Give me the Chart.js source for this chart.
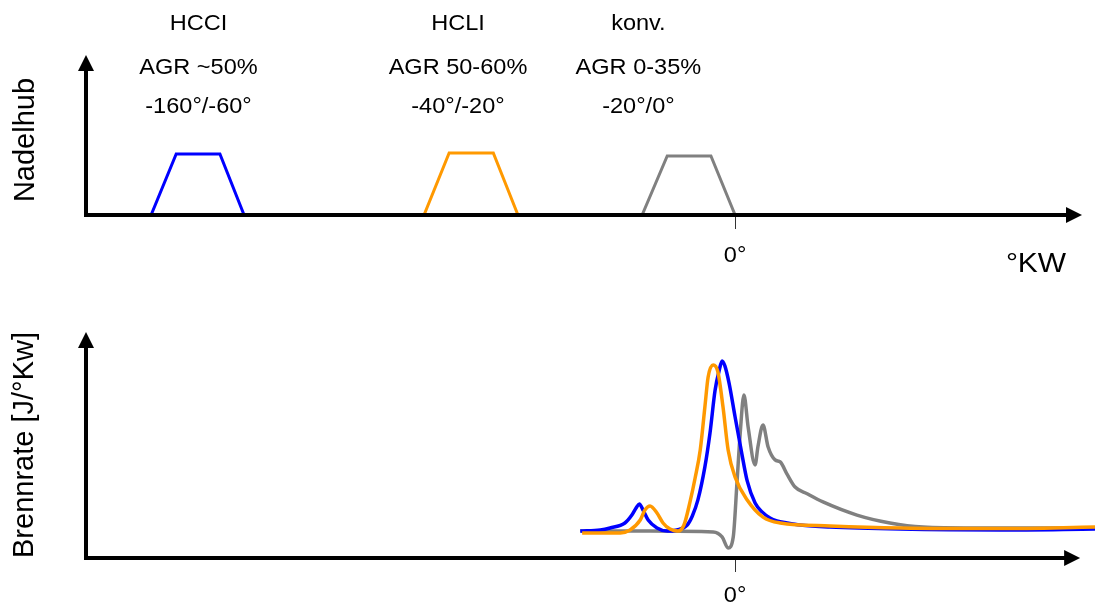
<!DOCTYPE html>
<html><head><meta charset="utf-8">
<script src="https://cdn.jsdelivr.net/npm/chart.js@4/dist/chart.umd.min.js"></script>
<style>
body{margin:0;background:#fff;width:1095px;height:604px;overflow:hidden;position:relative}
canvas{position:absolute;left:0}
</style></head><body>
<canvas id="c1" width="1095" height="290" style="top:0"></canvas>
<canvas id="c2" width="1095" height="314" style="top:290px"></canvas>
<script>
// ---- x axis (°KW, schematic), shared by both panels ----
const xMin = -139.6, xMax = 77.4, xArrowTop = 74.6, xArrowBottom = 74.2;

// ---- top panel: Nadelhub (needle lift) ----
const hubBlueX = [-125.6, -120.2, -110.8, -105.6];
const hubBlueY = [0, 3.81, 3.81, 0];
const hubOrangeX = [-66.9, -61.5, -52.0, -46.7];
const hubOrangeY = [0, 3.88, 3.88, 0];
const hubGrayX = [-20.0, -14.6, -5.2, 0];
const hubGrayY = [0, 3.69, 3.69, 0];

const modeNames = ['HCCI', 'HCLI', 'konv.'];
const modeAGR = ['AGR ~50%', 'AGR 50-60%', 'AGR 0-35%'];
const modeTiming = ['-160°/-60°', '-40°/-20°', '-20°/0°'];
const modeLabelX = [-115.4, -59.6, -20.8];

// ---- bottom panel: Brennrate (heat release rate) ----
const rateBlueX = [-33.3,-29.0,-26.9,-23.7,-22.2,-21.3,-20.6,-19.8,-18.7,-16.8,-14.6,-12.5,-10.3,-9.2,-8.0,-6.5,-5.4,-4.3,-3.4,-2.8,-2.2,-1.3,0,1.3,2.6,4.3,5.8,7.5,9.0,11.2,14.0,20.4,35.5,57.0,77.4];
const rateBlueY = [11.9,12.4,13.3,15.5,19.0,22.1,23.9,21.2,16.8,13.3,11.9,12.4,14.6,18.6,25.7,40.3,55.3,74.3,83.2,87.2,85.0,77.4,62.4,47.8,34.1,24.3,20.4,17.7,16.4,15.5,14.6,13.7,12.8,12.4,12.8];
const rateOrangeX = [-32.9,-24.7,-22.6,-20.4,-19.4,-18.3,-16.8,-15.5,-14.0,-12.3,-11.0,-9.7,-8.6,-7.5,-6.5,-5.8,-4.7,-3.7,-2.6,-1.5,0,2.6,6.0,9.7,20.4,35.5,57.0,77.4];
const rateOrangeY = [11.1,11.1,12.4,16.8,21.2,23.0,19.9,15.5,12.8,11.9,14.6,24.8,35.4,47.8,66.8,80.1,85.4,82.3,66.8,47.8,35.8,25.7,18.1,15.5,14.2,13.3,13.0,13.7];
const rateGrayX = [-33.3,-18.3,-4.7,-2.8,-1.5,-0.4,0.4,1.1,1.9,2.8,4.3,4.9,6.0,7.1,8.6,9.7,11.2,12.9,15.5,18.9,26.2,33.3,40.4,51.2,77.4];
const rateGrayY = [11.9,11.9,11.5,9.3,4.4,9.3,33.2,55.3,72.1,58.0,41.2,49.1,58.8,49.1,43.4,42.5,37.0,31.4,28.4,24.8,19.0,15.5,13.7,13.3,13.3];

const zeroLabel = '0°';
const xTitle = '°KW';
const yTitleTop = 'Nadelhub';
const yTitleBottom = 'Brennrate [J/°Kw]';

const BLUE = '#0000ff', ORANGE = '#ff9900', GRAY = '#808080';
const FONT = '"Liberation Sans", Arial, sans-serif';

function pts(xs, ys) { return xs.map((x, i) => ({x: x, y: ys[i]})); }

function text(ctx, s, x, y, size, rotate) {
  ctx.save();
  ctx.translate(x, y);
  if (rotate) ctx.rotate(-Math.PI / 2); else ctx.scale(1.07, 1);
  ctx.font = size + 'px ' + FONT;
  ctx.fillStyle = '#000';
  ctx.textAlign = 'center';
  ctx.textBaseline = 'alphabetic';
  ctx.fillText(s, 0, 0);
  ctx.restore();
}

function axes(chart, arrowValue) {
  const ctx = chart.ctx, a = chart.chartArea, xs = chart.scales.x;
  const left = a.left, bottom = a.bottom, top = a.top;
  const tip = xs.getPixelForValue(arrowValue);
  const L = 15, W = 8;
  ctx.save();
  ctx.strokeStyle = '#000';
  ctx.fillStyle = '#000';
  ctx.lineWidth = 4;
  ctx.lineJoin = 'miter';
  ctx.beginPath();
  ctx.moveTo(left, top + L);
  ctx.lineTo(left, bottom);
  ctx.lineTo(tip - L, bottom);
  ctx.stroke();
  ctx.beginPath();
  ctx.moveTo(tip, bottom);
  ctx.lineTo(tip - L - 1, bottom - W);
  ctx.lineTo(tip - L - 1, bottom + W);
  ctx.closePath();
  ctx.fill();
  ctx.beginPath();
  ctx.moveTo(left, top);
  ctx.lineTo(left - W, top + L + 1);
  ctx.lineTo(left + W, top + L + 1);
  ctx.closePath();
  ctx.fill();
  // tick at 0°
  const z = Math.round(xs.getPixelForValue(0)) + 0.5;
  ctx.strokeStyle = '#333';
  ctx.lineWidth = 1;
  ctx.beginPath();
  ctx.moveTo(z, bottom + 2);
  ctx.lineTo(z, bottom + 14);
  ctx.stroke();
  ctx.restore();
}

const baseOpts = (ymax, pad) => ({
  responsive: false, animation: false, devicePixelRatio: 1,
  layout: {padding: pad},
  plugins: {legend: {display: false}, tooltip: {enabled: false}},
  elements: {point: {radius: 0}},
  scales: {
    x: {type: 'linear', min: xMin, max: xMax, display: false},
    y: {type: 'linear', min: 0, max: ymax, display: false}
  }
});

new Chart(document.getElementById('c1'), {
  type: 'line',
  data: {datasets: [
    {data: pts(hubBlueX, hubBlueY), borderColor: BLUE, borderWidth: 3, tension: 0},
    {data: pts(hubOrangeX, hubOrangeY), borderColor: ORANGE, borderWidth: 3, tension: 0},
    {data: pts(hubGrayX, hubGrayY), borderColor: GRAY, borderWidth: 3, tension: 0}
  ]},
  options: baseOpts(10, {left: 86, right: 0, top: 55, bottom: 75}),
  plugins: [{
    id: 'deco1',
    afterDraw(chart) {
      const ctx = chart.ctx, xs = chart.scales.x;
      axes(chart, xArrowTop);
      modeNames.forEach((n, i) => {
        const px = xs.getPixelForValue(modeLabelX[i]);
        text(ctx, n, px, 30, 22);
        text(ctx, modeAGR[i], px, 74, 22);
        text(ctx, modeTiming[i], px, 113, 22);
      });
      text(ctx, zeroLabel, xs.getPixelForValue(0), 262, 22);
      text(ctx, xTitle, 1036, 272, 28);
      text(ctx, yTitleTop, 34, 140, 29, true);
    }
  }]
});

new Chart(document.getElementById('c2'), {
  type: 'line',
  data: {datasets: [
    {data: pts(rateOrangeX, rateOrangeY), borderColor: ORANGE, borderWidth: 3.5, cubicInterpolationMode: 'monotone'},
    {data: pts(rateBlueX, rateBlueY), borderColor: BLUE, borderWidth: 3.5, cubicInterpolationMode: 'monotone'},
    {data: pts(rateGrayX, rateGrayY), borderColor: GRAY, borderWidth: 3.5, cubicInterpolationMode: 'monotone'}
  ]},
  options: baseOpts(100, {left: 86, right: 0, top: 42, bottom: 46}),
  plugins: [{
    id: 'deco2',
    afterDraw(chart) {
      const ctx = chart.ctx, xs = chart.scales.x;
      axes(chart, xArrowBottom);
      text(ctx, zeroLabel, xs.getPixelForValue(0), 312, 22);
      text(ctx, yTitleBottom, 33, 155, 29, true);
    }
  }]
});
</script>
</body></html>
